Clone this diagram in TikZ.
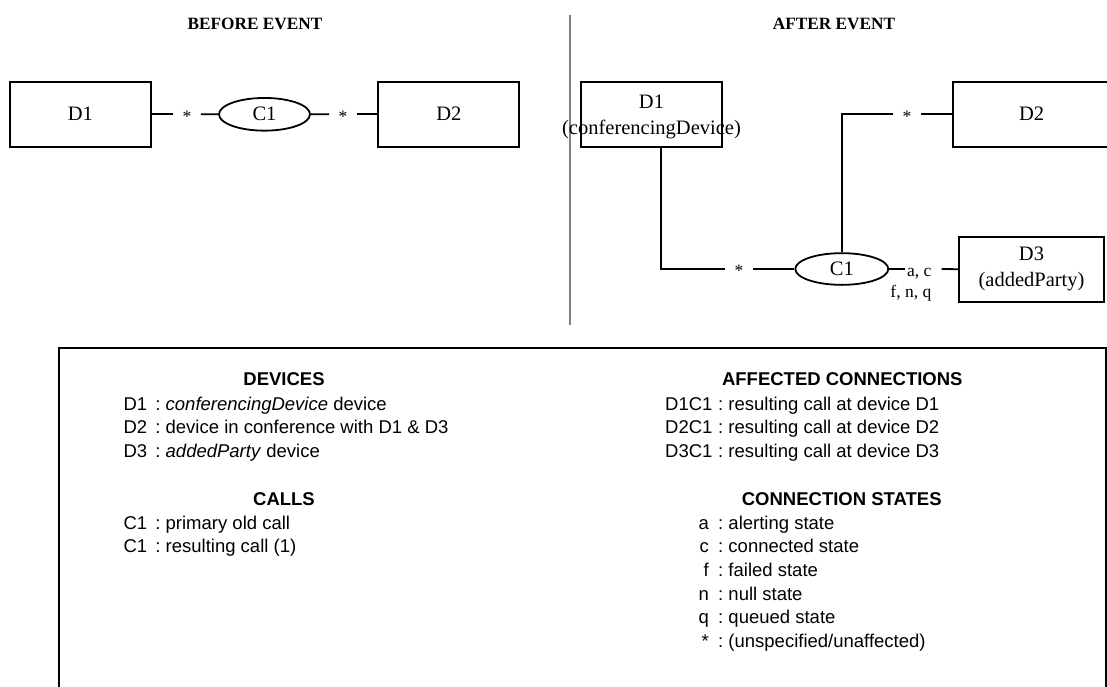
\documentclass[tikz,border=0pt]{standalone}
\usepackage{fontspec}
\setmainfont{Liberation Serif}
\setsansfont{Liberation Sans}
\usetikzlibrary{shapes.geometric}
\newcommand{\lblfont}{\fontsize{20.5}{26}\selectfont}
\newcommand{\starfont}{\fontsize{17.5}{21}\selectfont}
\newcommand{\evfont}{\fontsize{17.25}{20}\selectfont\bfseries}
\newcommand{\legfont}{\sffamily\fontsize{18.5}{22}\selectfont}
\newcommand{\leghfont}{\sffamily\bfseries\fontsize{18.5}{22}\selectfont}
\newcommand{\stmark}{\smash{\raisebox{-0.45em}{*}}}
\tikzset{
  devbox/.style={draw, line width=1.8pt, inner sep=0pt, minimum height=65pt, font=\lblfont, align=center},
  callell/.style={draw, ellipse, line width=1.8pt, inner sep=0pt, minimum width=91pt, minimum height=32pt, font=\lblfont},
  starmark/.style={inner sep=0pt, minimum width=27.5pt, minimum height=0pt, font=\starfont},
  conn/.style={line width=1.8pt},
  evhead/.style={font=\evfont, inner sep=0pt},
  legh/.style={font=\leghfont, anchor=base, inner sep=0pt},
  legt/.style={font=\legfont, anchor=base west, inner sep=0pt},
  legr/.style={font=\legfont, anchor=base east, inner sep=0pt},
}
\begin{document}
\begin{tikzpicture}[x=1pt,y=-1pt]
\useasboundingbox (0,0) rectangle (1107,686);
% separator
\coordinate (sepa) at (569.7,14.7);
\coordinate (sepb) at (569.7,324.7);
\draw[gray, line width=2pt] (sepa) -- (sepb);
% headings
\node[evhead] (hbefore) at (255,24) {BEFORE EVENT};
\node[evhead] (hafter) at (834,24) {AFTER EVENT};
% before event
\node[devbox, minimum width=140.7pt] (d1b) at (80.35,114.2) {D1};
\node[devbox, minimum width=141pt] (d2b) at (448.8,114.2) {D2};
\node[callell, minimum width=91pt, minimum height=32.7pt] (c1b) at (264.5,114.3) {C1};
\node[starmark] (s1) at (187,114.2) {\stmark};
\node[starmark] (s2) at (343,114.2) {\stmark};
\draw[conn] (d1b.east) -- (s1.west);
\draw[conn] (s1.east) -- (c1b.west);
\draw[conn] (c1b.east) -- (s2.west);
\draw[conn] (s2.east) -- (d2b.west);
% after event
\node[devbox, minimum width=141.6pt] (d1a) at (651.5,114.2) {};
\node[font=\lblfont, align=center, inner sep=0pt] (d1atxt) at (651.5,117) {D1\\(conferencingDevice)};
\node[devbox, minimum width=156.7pt] (d2a) at (1031.7,114.2) {D2};
\node[devbox, minimum width=145pt] (d3a) at (1031.5,269.2) {D3\\(addedParty)};
\node[callell, minimum width=93pt, minimum height=31.7pt] (c1a) at (841.8,269) {C1};
\node[starmark] (s3) at (739,269) {\stmark};
\node[starmark] (s4) at (907,114.2) {\stmark};
\draw[conn] ([xshift=9.5pt]d1a.south) |- (s3.west);
\draw[conn] (s3.east) -- (c1a.west);
\draw[conn] (c1a.north) |- (s4.west);
\draw[conn] (s4.east) -- (d2a.west);
\coordinate (g1) at (905,269);
\coordinate (g2) at (941.7,269);
\draw[conn] (c1a.east) -- (g1);
\draw[conn] (g2) -- (d3a.west);
\node[font=\starfont, align=right, anchor=north east, inner sep=0pt, text depth=0pt] (stl) at (931.5,268.5) {\fontsize{17.5}{21.3}\selectfont a, c\\f, n, q};
% legend box
\coordinate (lb1) at (58.5,700);
\coordinate (lb2) at (58.5,347.7);
\coordinate (lb3) at (1105.7,347.7);
\coordinate (lb4) at (1105.7,700);
\draw[line width=2pt] (lb1) -- (lb2) -- (lb3) -- (lb4);
% left legend
\node[legh] (hdev) at (284,385) {DEVICES};
\node[legt] (ld1) at (123.3,410) {D1};
\node[legt] (td1) at (155.2,410) {:\ \textit{conferencingDevice} device};
\node[legt] (ld2) at (123.3,433.7) {D2};
\node[legt] (td2) at (155.2,433.7) {:\ device in conference with D1 \& D3};
\node[legt] (ld3) at (123.3,457.4) {D3};
\node[legt] (td3) at (155.2,457.4) {:\ \textit{addedParty} device};
\node[legh] (hcalls) at (284,505) {CALLS};
\node[legt] (lc1) at (123.3,529) {C1};
\node[legt] (tc1) at (155.2,529) {:\ primary old call};
\node[legt] (lc2) at (123.3,552.7) {C1};
\node[legt] (tc2) at (155.2,552.7) {:\ resulting call (1)};
% right legend
\node[legh] (haff) at (842.3,385) {AFFECTED CONNECTIONS};
\node[legt] (la1) at (665,410) {D1C1};
\node[legt] (ta1) at (718,410) {:\ resulting call at device D1};
\node[legt] (la2) at (665,433.7) {D2C1};
\node[legt] (ta2) at (718,433.7) {:\ resulting call at device D2};
\node[legt] (la3) at (665,457.4) {D3C1};
\node[legt] (ta3) at (718,457.4) {:\ resulting call at device D3};
\node[legh] (hstates) at (841.7,505) {CONNECTION STATES};
\node[legr] (lsa) at (709,529) {a};
\node[legt] (tsa) at (718,529) {:\ alerting state};
\node[legr] (lsc) at (709,552.7) {c};
\node[legt] (tsc) at (718,552.7) {:\ connected state};
\node[legr] (lsf) at (709,576.4) {f};
\node[legt] (tsf) at (718,576.4) {:\ failed state};
\node[legr] (lsn) at (709,600.1) {n};
\node[legt] (tsn) at (718,600.1) {:\ null state};
\node[legr] (lsq) at (709,623.8) {q};
\node[legt] (tsq) at (718,623.8) {:\ queued state};
\node[legr] (lss) at (709,647.5) {*};
\node[legt] (tss) at (718,647.5) {:\ (unspecified/unaffected)};
\end{tikzpicture}
\end{document}
